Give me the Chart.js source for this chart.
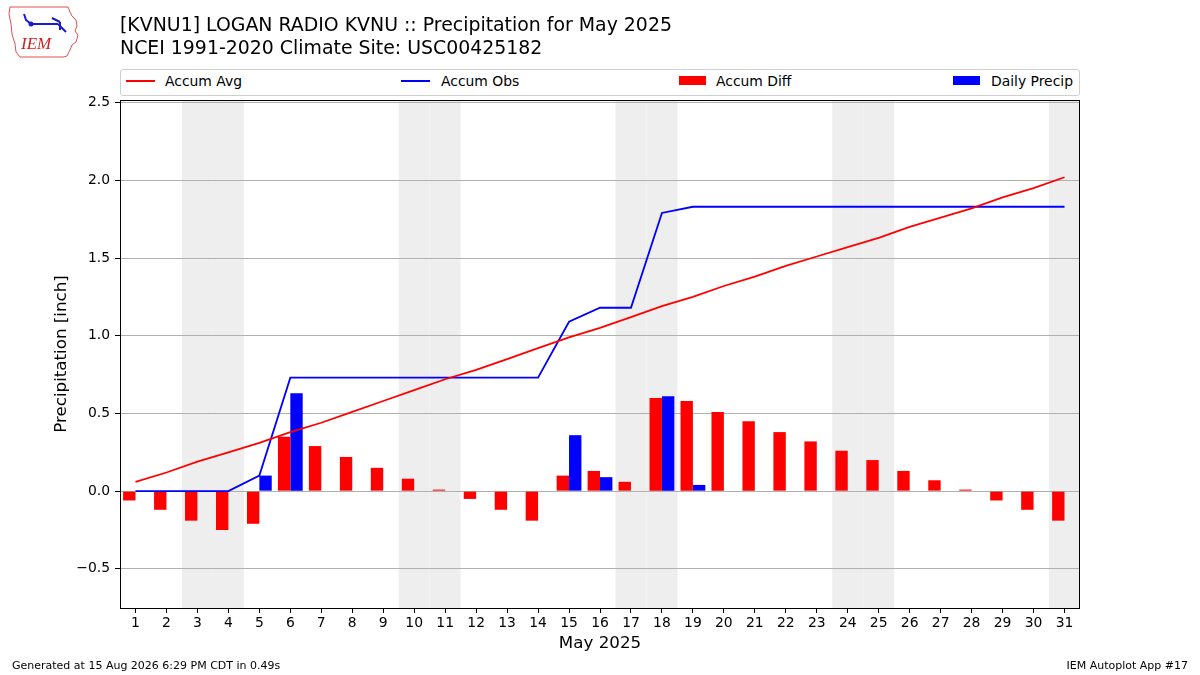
<!DOCTYPE html>
<html>
<head>
<meta charset="utf-8">
<script src="https://cdn.jsdelivr.net/npm/chart.js@4/dist/chart.umd.min.js"></script>
<style>
  body { margin: 0; background: #fff; font-family: "DejaVu Sans", sans-serif; }
  #wrap { position: relative; width: 1200px; height: 675px; overflow: hidden; }
  #chart { position: absolute; left: 0; top: 0; }
  .title { position: absolute; left: 120px; font-size: 18.9px; color: #000; white-space: nowrap; }
  #legend { position: absolute; left: 120px; top: 69px; width: 958px; height: 25px;
            border: 1px solid #d0d0d0; border-radius: 3px; background: #fff; font-size: 13.9px; }
  .item { position: absolute; top: 3px; white-space: nowrap; }
  .line { position: absolute; top: 10px; width: 29px; height: 2px; }
  .patch { position: absolute; top: 6px; width: 27px; height: 9px; }
  .foot { position: absolute; top: 659px; font-size: 11px; white-space: nowrap; }
</style>
</head>
<body>
<div id="wrap">
  <canvas id="chart" width="1200" height="675"></canvas>
  <svg style="position:absolute;left:6px;top:4px" width="76" height="56" viewBox="0 0 76 56">
    <path d="M4 3 L62 3 L64 8 L66 12 L70 16 L71 22 L69 27 L72 31 L70 38 L66 41 L64 46 L61 52 L58 53 L14 53 L10 48 L9 40 L6 30 L5 20 L3 10 Z"
          fill="none" stroke="#e05050" stroke-width="1"/>
    <path d="M18 10 L20 16 L25 20 M25 20 L52 20 M46 14 L54 18 M54 18 L54 26 M52 20 L60 28" fill="none" stroke="#1a1ad0" stroke-width="2"/>
    <circle cx="25" cy="20" r="2.5" fill="#1a1ad0"/>
    <text x="15" y="45" font-family="Liberation Serif, serif" font-style="italic" font-size="17" fill="#d02020">IEM</text>
  </svg>
  <div class="title" style="top:13px">[KVNU1] LOGAN RADIO KVNU :: Precipitation for May 2025</div>
  <div class="title" style="top:36px">NCEI 1991-2020 Climate Site: USC00425182</div>
  <div id="legend">
    <div class="line" style="left:5px;background:#ff0000"></div>
    <div class="item" style="left:44px">Accum Avg</div>
    <div class="line" style="left:280px;background:#0000ff"></div>
    <div class="item" style="left:320px">Accum Obs</div>
    <div class="patch" style="left:558px;background:#ff0000"></div>
    <div class="item" style="left:595px">Accum Diff</div>
    <div class="patch" style="left:832px;background:#0000ff"></div>
    <div class="item" style="left:870px">Daily Precip</div>
  </div>
  <div class="foot" style="left:12px">Generated at 15 Aug 2026 6:29 PM CDT in 0.49s</div>
  <div class="foot" style="right:12px">IEM Autoplot App #17</div>
</div>
<script>
// 날짜와 값
const days = [1,2,3,4,5,6,7,8,9,10,11,12,13,14,15,16,17,18,19,20,21,22,23,24,25,26,27,28,29,30,31];
const accumAvg = [0.06,0.12,0.19,0.25,0.31,0.38,0.44,0.51,0.58,0.65,0.72,0.78,0.85,0.92,0.99,1.05,
                  1.12,1.19,1.25,1.32,1.38,1.45,1.51,1.57,1.63,1.70,1.76,1.82,1.89,1.95,2.02];
const accumObs = [0,0,0,0,0.10,0.73,0.73,0.73,0.73,0.73,0.73,0.73,0.73,0.73,1.09,1.18,
                  1.18,1.79,1.83,1.83,1.83,1.83,1.83,1.83,1.83,1.83,1.83,1.83,1.83,1.83,1.83];
const accumDiff = [-0.06,-0.12,-0.19,-0.25,-0.21,0.35,0.29,0.22,0.15,0.08,0.01,-0.05,-0.12,-0.19,0.10,0.13,
                   0.06,0.60,0.58,0.51,0.45,0.38,0.32,0.26,0.20,0.13,0.07,0.01,-0.06,-0.12,-0.19];
const dailyPrecip = [0,0,0,0,0.10,0.63,0,0,0,0,0,0,0,0,0.36,0.09,
                     0,0.61,0.04,0,0,0,0,0,0,0,0,0,0,0,0];
const weekendDays = [3,4,10,11,17,18,24,25,31];
const yTicks = [-0.5,0.0,0.5,1.0,1.5,2.0,2.5];

const pts = arr => days.map((d, i) => ({x: d, y: arr[i]}));

// 주말 회색 배경 + 테두리
const shadePlugin = {
    id: "shade",
    beforeDraw(chart) {
        const {ctx, chartArea, scales: {x}} = chart;
        ctx.save();
        ctx.fillStyle = "#eeeeee";
        for (const d of weekendDays) {
            const x0 = Math.max(x.getPixelForValue(d - 0.5), chartArea.left);
            const x1 = Math.min(x.getPixelForValue(d + 0.5), chartArea.right);
            ctx.fillRect(x0, chartArea.top, x1 - x0, chartArea.bottom - chartArea.top);
        }
        ctx.restore();
    },
    afterDatasetsDraw(chart) {
        const {ctx, chartArea} = chart;
        ctx.save();
        ctx.strokeStyle = "#000";
        ctx.lineWidth = 1;
        ctx.strokeRect(chartArea.left + 0.5, chartArea.top + 0.5,
                       chartArea.right - chartArea.left - 1, chartArea.bottom - chartArea.top);
        ctx.restore();
    },
};

const fmt = v => (v < 0 ? "\u2212" : "") + Math.abs(v).toFixed(1);

new Chart(document.getElementById("chart"), {
    type: "bar",
    data: {
        datasets: [
            {type: "line", label: "Accum Avg", data: pts(accumAvg), borderColor: "#ff0000",
             borderWidth: 1.8, pointRadius: 0, order: 0},
            {type: "line", label: "Accum Obs", data: pts(accumObs), borderColor: "#0000ff",
             borderWidth: 1.8, pointRadius: 0, order: 0},
            {label: "Accum Diff", data: pts(accumDiff), backgroundColor: "#ff0000", order: 1},
            {label: "Daily Precip", data: pts(dailyPrecip), backgroundColor: "#0000ff", order: 1},
        ],
    },
    options: {
        responsive: false,
        animation: false,
        events: [],
        layout: {padding: {left: 48, top: 100, right: 120, bottom: 17}},
        datasets: {bar: {categoryPercentage: 0.8, barPercentage: 1.0, grouped: true}},
        plugins: {legend: {display: false}, title: {display: false}, tooltip: {enabled: false}},
        scales: {
            x: {
                type: "linear", min: 0.5, max: 31.5, offset: false,
                afterBuildTicks: s => { s.ticks = days.map(d => ({value: d})); },
                afterFit: s => { s.height = 50; },
                grid: {drawOnChartArea: false, offset: false, tickLength: 5, tickColor: "#000"},
                border: {display: false},
                ticks: {color: "#000", font: {family: "DejaVu Sans", size: 13.9}, padding: 2,
                        maxRotation: 0, autoSkip: false},
                title: {display: true, text: "May 2025", color: "#000",
                        font: {family: "DejaVu Sans", size: 16.7}, padding: {top: 2, bottom: 4}},
            },
            y: {
                min: -0.752, max: 2.517,
                afterBuildTicks: s => { s.ticks = yTicks.map(v => ({value: v})); },
                afterFit: s => { s.width = 72; },
                grid: {color: "#b0b0b0", lineWidth: 1, tickLength: 5, tickColor: "#000"},
                border: {display: false},
                ticks: {color: "#000", font: {family: "DejaVu Sans", size: 13.9}, padding: 5,
                        callback: v => fmt(v)},
                title: {display: true, text: "Precipitation [inch]", color: "#000",
                        font: {family: "DejaVu Sans", size: 16.7}, padding: {top: 4, bottom: 4}},
            },
        },
    },
    plugins: [shadePlugin],
});
</script>
</body>
</html>
